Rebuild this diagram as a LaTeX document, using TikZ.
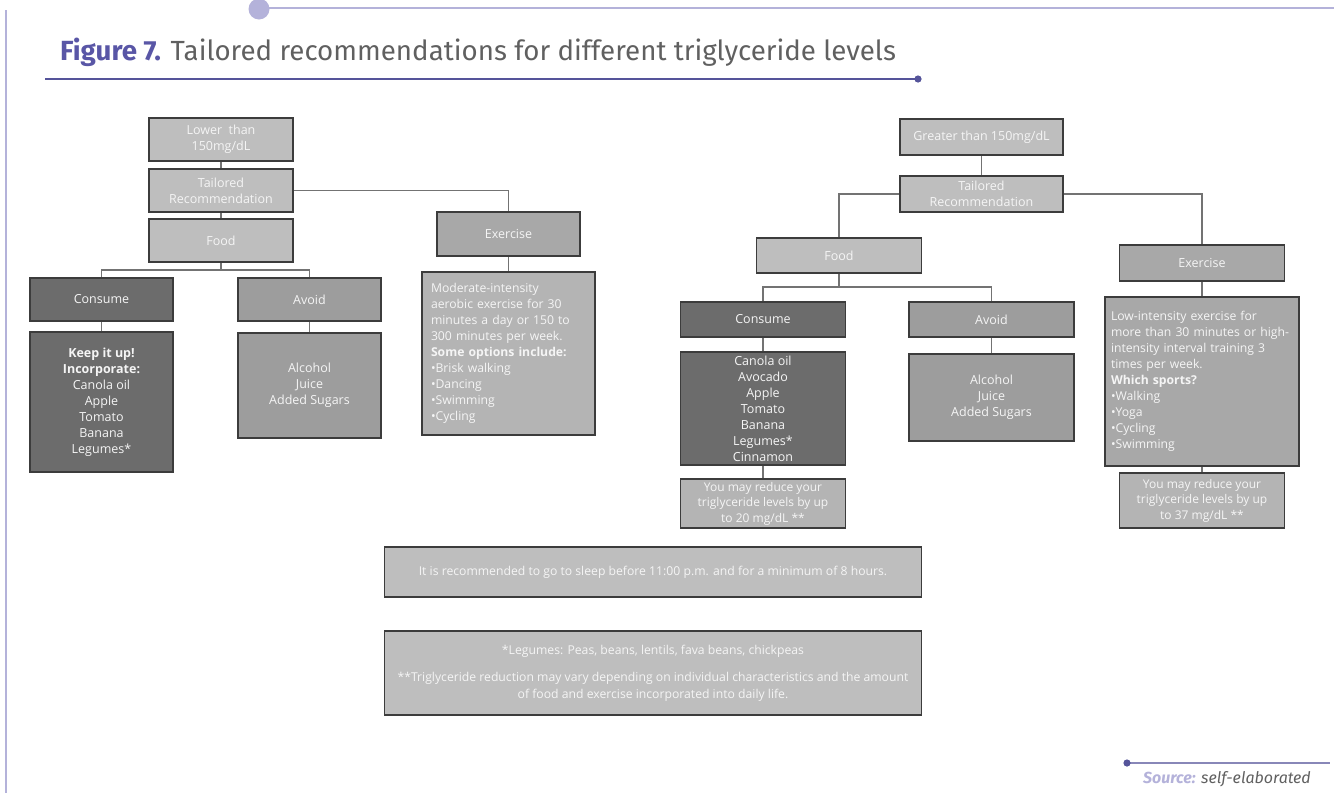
\documentclass[tikz,border=0pt]{standalone}
\usepackage{fontspec}
\setmainfont{Open Sans}
\newfontfamily\titlefont{Fira Sans}
\definecolor{lav}{HTML}{B4B2DA}
\definecolor{navy}{HTML}{55549A}
\definecolor{figc}{HTML}{5956A6}
\definecolor{titc}{HTML}{606060}
\definecolor{bordc}{HTML}{3C3C3C}
\definecolor{txtc}{HTML}{F5F5F5}
\definecolor{connc}{HTML}{737373}
\definecolor{fillA}{HTML}{BEBEBE}
\definecolor{fillB}{HTML}{A8A8A8}
\definecolor{fillC}{HTML}{9D9D9D}
\definecolor{fillD}{HTML}{6C6C6C}
\definecolor{fillE}{HTML}{B4B4B4}
\begin{document}
\begin{tikzpicture}[x=1pt,y=-1pt,
  box/.style={draw=bordc, line width=1.6pt, text=txtc, align=center, inner sep=3pt,
    font=\fontsize{12.5}{16}\selectfont},
  lbox/.style={box, align=left, inner sep=9pt, font=\fontsize{12.2}{16}\selectfont},
  conn/.style={draw=connc, line width=1.8pt}]
\useasboundingbox (0,0) rectangle (1334,793);
% frame decorations
\draw[lav, line width=2pt] (259,8) -- (1334,8);
\fill[lav] (259,9) circle (10.5);
\draw[lav, line width=2.5pt] (6,10) -- (6,793);
\draw[navy, line width=1.5pt] (45,79) -- (918,79);
\fill[navy] (918,79) circle (3.6);
\draw[navy!70, line width=1.2pt] (1127,763) -- (1330,763);
\fill[navy] (1127,763) circle (3.6);
\node[anchor=base west, inner sep=0pt, font=\titlefont\fontsize{27.7}{31}\selectfont] (title) at (60,60)
  {\textcolor{figc}{\textbf{Figure 7.}} \textcolor{titc}{Tailored recommendations for different triglyceride levels}};
\node[anchor=base east, inner sep=0pt, font=\titlefont\itshape\fontsize{16}{19}\selectfont] (source) at (1311,783)
  {\textcolor{lav}{\textbf{Source:}} \textcolor{titc}{self-elaborated}};
% left tree
\node[box, fill=fillA, minimum width=144, minimum height=43] (lower) at (221,139.5) {Lower\ \ than\\150mg/dL};
\node[box, fill=fillA, minimum width=144, minimum height=43] (tailL) at (221,190.5) {Tailored\\Recommendation};
\node[box, fill=fillA, minimum width=144, minimum height=43] (foodL) at (221,240.5) {Food};
\node[box, fill=fillB, minimum width=143, minimum height=44] (exL) at (508.5,234) {Exercise};
\node[box, fill=fillD, minimum width=143, minimum height=43] (conL) at (101.5,299.5) {Consume};
\node[box, fill=fillC, minimum width=143, minimum height=43] (avL) at (309.5,299.5) {Avoid};
\node[box, fill=fillD, minimum width=143, minimum height=140] (keepL) at (101.5,402)
  {\textbf{Keep it up!}\\\textbf{Incorporate:}\\Canola oil\\Apple\\Tomato\\Banana\\Legumes*};
\node[box, fill=fillC, minimum width=143, minimum height=105] (alcL) at (309.5,385.5) {Alcohol\\Juice\\Added Sugars};
\node[lbox, fill=fillE, minimum width=173, minimum height=163, text width=155] (modL) at (508.5,353.5)
  {Moderate-intensity\\aerobic exercise for 30\\minutes a day or 150 to\\300 minutes per week.\\\textbf{Some options include:}\\\textbullet Brisk walking\\\textbullet Dancing\\\textbullet Swimming\\\textbullet Cycling};
\coordinate (jL) at (221,270);
\draw[conn] (lower) -- (tailL);
\draw[conn] (tailL) -- (foodL);
\draw[conn] (tailL.east) -| (exL.north);
\draw[conn] (foodL) -- (jL);
\draw[conn] (conL.north) |- (jL) -| (avL.north);
\draw[conn] (conL) -- (keepL);
\draw[conn] (avL) -- (alcL);
\draw[conn] (exL) -- (modL);
% right tree
\node[box, fill=fillA, minimum width=163, minimum height=36] (greater) at (981.5,137) {Greater than 150mg/dL};
\node[box, fill=fillA, minimum width=163, minimum height=36] (tailR) at (981.5,194) {Tailored\\Recommendation};
\node[box, fill=fillA, minimum width=165, minimum height=35] (foodR) at (839,255.5) {Food};
\node[box, fill=fillB, minimum width=165, minimum height=36] (exR) at (1202,263) {Exercise};
\node[box, fill=fillD, minimum width=165, minimum height=35] (conR) at (763,319.5) {Consume};
\node[box, fill=fillC, minimum width=165, minimum height=35] (avR) at (991.5,319.5) {Avoid};
\node[box, fill=fillD, minimum width=165, minimum height=113] (canR) at (763,408.5)
  {Canola oil\\Avocado\\Apple\\Tomato\\Banana\\Legumes*\\Cinnamon};
\node[box, fill=fillC, minimum width=165, minimum height=87] (alcR) at (991.5,397.5) {Alcohol\\Juice\\Added Sugars};
\node[lbox, fill=fillB, minimum width=194, minimum height=169, inner xsep=6pt, text width=182] (lowR) at (1202,381.5)
  {Low-intensity exercise for\\more than 30 minutes or high-\\intensity interval training 3\\times per week.\\\textbf{Which sports?}\\\textbullet Walking\\\textbullet Yoga\\\textbullet Cycling\\\textbullet Swimming};
\node[box, fill=fillE, minimum width=165, minimum height=49, font=\fontsize{12}{15.5}\selectfont] (red20) at (763,503.5)
  {You may reduce your\\triglyceride levels by up\\to 20 mg/dL **};
\node[box, fill=fillE, minimum width=165, minimum height=55, font=\fontsize{12}{15.5}\selectfont] (red37) at (1202,500.5)
  {You may reduce your\\triglyceride levels by up\\to 37 mg/dL **};
\coordinate (jR) at (839,287);
\draw[conn] (greater) -- (tailR);
\draw[conn] (tailR.west) -| (foodR.north);
\draw[conn] (tailR.east) -| (exR.north);
\draw[conn] (foodR) -- (jR);
\draw[conn] (conR.north) |- (jR) -| (avR.north);
\draw[conn] (conR) -- (canR);
\draw[conn] (avR) -- (alcR);
\draw[conn] (canR) -- (red20);
\draw[conn] (exR) -- (lowR);
\draw[conn] (lowR) -- (red37);
% bottom notes
\node[box, fill=fillA, minimum width=537, minimum height=50, font=\fontsize{12.2}{15}\selectfont] (sleep) at (653,572)
  {It is recommended to go to sleep before 11:00 p.m. and for a minimum of 8 hours.};
\node[box, fill=fillA, minimum width=537, minimum height=84, font=\fontsize{12.2}{17}\selectfont] (notes) at (653,673)
  {*Legumes: Peas, beans, lentils, fava beans, chickpeas\\[10pt]**Triglyceride reduction may vary depending on individual characteristics and the amount\\of food and exercise incorporated into daily life.};
\end{tikzpicture}
\end{document}
